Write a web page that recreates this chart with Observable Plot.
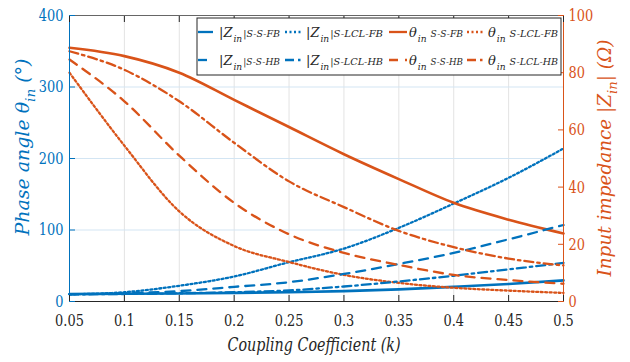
<!DOCTYPE html>
<html><head><meta charset="utf-8">
<script src="https://cdn.jsdelivr.net/npm/d3@7"></script>
<script src="https://cdn.jsdelivr.net/npm/@observablehq/plot@0.6"></script>
<style>
body{margin:0;background:#fff}
#chart{width:630px;height:362px}
</style>
</head><body><div id="chart"></div>
<script>
// coupling coefficient k
const kValues = [0.05,0.1,0.15,0.2,0.25,0.3,0.35,0.4,0.45,0.5];
// left-axis series (blue)
const zSSFB   = [10.5,10.8,11.2,12,13,14.5,17,20.5,24.5,29.5];
const zLCLFB  = [10,13,22,35,55,74,103,137,173,214];
const zSSHB   = [10,11.5,14.5,20.5,27,38.5,52.5,68,87,107];
const zLCLHB  = [10,10.5,11.5,13,15.5,21,28,36,45,54];
// right-axis series (orange)
const tSSFB   = [88.7,85.8,80,70.5,61,51.5,42.8,34.5,28.6,23.8];
const tLCLFB  = [80,54.5,31.5,19.4,13.8,9.3,6.5,4.8,3.8,3.0];
const tSSHB   = [84.6,70,51,34.5,23.5,17,12.8,9.3,7.5,6.2];
const tLCLHB  = [87.5,81,70,55.5,42,33,24.7,19,15,12.6];
// ticks
const xTicks = [0.05,0.1,0.15,0.2,0.25,0.3,0.35,0.4,0.45,0.5];
const leftTicks = [0,100,200,300,400];
const rightTicks = [0,20,40,60,80,100];
const xDomain = [0.05,0.5];
const leftDomain = [0,400];
const rightDomain = [0,100];

const BLUE = "#0072BD", ORANGE = "#D95319", DARK = "#262626";
const FONT = "DejaVu Serif";
const ratio = leftDomain[1] / rightDomain[1];

const series = [
  {pre:"|Z", sub:"in", post:"|S-S-FB",    vals:zSSFB,  color:BLUE,   dash:"none",      axis:"left"},
  {pre:"|Z", sub:"in", post:"|S-LCL-FB",  vals:zLCLFB, color:BLUE,   dash:"2 2.5",     axis:"left"},
  {pre:"θ",  sub:"in", post:" S-S-FB",    vals:tSSFB,  color:ORANGE, dash:"none",      axis:"right"},
  {pre:"θ",  sub:"in", post:" S-LCL-FB",  vals:tLCLFB, color:ORANGE, dash:"2 2.5",     axis:"right"},
  {pre:"|Z", sub:"in", post:"|S-S-HB",    vals:zSSHB,  color:BLUE,   dash:"9 7",       axis:"left"},
  {pre:"|Z", sub:"in", post:"|S-LCL-HB",  vals:zLCLHB, color:BLUE,   dash:"9 4 2.5 4", axis:"left"},
  {pre:"θ",  sub:"in", post:" S-S-HB",    vals:tSSHB,  color:ORANGE, dash:"9 7",       axis:"right"},
  {pre:"θ",  sub:"in", post:" S-LCL-HB",  vals:tLCLHB, color:ORANGE, dash:"9 4 2.5 4", axis:"right"}
];

const lineMarks = series.map(s => {
  const rows = kValues.map((k, i) => ({k, v: s.vals[i]}));
  return Plot.line(rows, {
    x: "k",
    y: d => s.axis === "right" ? d.v * ratio : d.v,
    stroke: s.color, strokeWidth: s.dash === "none" ? 2.6 : 2.3,
    strokeDasharray: s.dash,
    curve: "monotone-x"
  });
});

const svg = Plot.plot({
  width: 630, height: 362,
  marginLeft: 69, marginRight: 67, marginTop: 15, marginBottom: 61,
  style: {fontFamily: FONT, background: "#fff"},
  x: {domain: xDomain},
  y: {domain: leftDomain},
  marks: [
    Plot.gridX(xTicks, {stroke: "#e3e3e3", strokeOpacity: 1}),
    Plot.gridY(leftTicks.slice(1, -1), {stroke: "#d3e5f3", strokeOpacity: 1}),
    ...lineMarks,
    Plot.ruleY([leftDomain[0]], {stroke: DARK}),
    Plot.ruleY([leftDomain[1]], {stroke: "#666"}),
    Plot.ruleX([xDomain[0]], {stroke: BLUE}),
    Plot.ruleX([xDomain[1]], {stroke: ORANGE}),
    Plot.axisX(xTicks, {anchor: "bottom", tickSize: 6, dy: -6, tickPadding: 12, tickFormat: d => String(d),
      fontSize: 17, stroke: DARK, fill: DARK, label: null}),
    Plot.axisX(xTicks, {anchor: "top", tickSize: 6, dy: 6, tickFormat: () => "", stroke: DARK, label: null}),
    Plot.axisY(leftTicks, {anchor: "left", tickSize: 6, dx: 6, tickPadding: 6, tickFormat: d => String(d),
      fontSize: 17, stroke: BLUE, fill: BLUE, label: null}),
    Plot.axisY(rightTicks.map(t => t * ratio), {anchor: "right", tickSize: 6, dx: -6, tickPadding: 5,
      tickFormat: d => String(d / ratio), fontSize: 17, stroke: ORANGE, fill: ORANGE, label: null})
  ]
});
document.getElementById("chart").appendChild(svg);
svg.setAttribute("font-family", FONT);

const root = d3.select(svg);

function squeeze(el, target) {
  try {
    const L = el.getComputedTextLength();
    if (L > 0 && target > 0) {
      el.setAttribute("textLength", target);
      el.setAttribute("lengthAdjust", "spacingAndGlyphs");
    }
  } catch (e) {}
}

// horizontally condense tick labels (Times-like proportions)
root.selectAll('g[aria-label$="tick label"] text').each(function() {
  try { squeeze(this, this.getComputedTextLength() * 0.76); } catch (e) {}
});

function richText(g, parts, opts) {
  const t = g.append("text")
    .attr("font-family", FONT).attr("font-style", "italic")
    .attr("font-size", opts.size).attr("fill", opts.color)
    .attr("text-anchor", opts.anchor || "start");
  if (opts.transform) t.attr("transform", opts.transform);
  parts.forEach(p => {
    const ts = t.append("tspan").text(p.text);
    if (p.sub) ts.attr("dy", opts.size * 0.35).attr("font-size", opts.size * 0.72);
    if (p.after) ts.attr("dy", -opts.size * 0.35);
  });
  if (opts.width) squeeze(t.node(), opts.width);
  return t;
}

// axis titles
richText(root, [{text: "Phase angle θ"}, {text: "in", sub: true}, {text: " (°)", after: true}],
  {size: 18, color: BLUE, anchor: "middle", width: 177, transform: "translate(29,147) rotate(-90)"});
richText(root, [{text: "Input impedance |Z"}, {text: "in", sub: true}, {text: "| (Ω)", after: true}],
  {size: 18, color: ORANGE, anchor: "middle", width: 237, transform: "translate(611,158) rotate(-90)"});
richText(root, [{text: "Coupling Coefficient (k)"}],
  {size: 18, color: DARK, anchor: "middle", width: 173, transform: "translate(314,351)"});

// legend: each label built from separate text pieces laid side by side
const lg = root.append("g");
lg.append("rect").attr("x", 197).attr("y", 18).attr("width", 364).attr("height", 57)
  .attr("fill", "#fff").attr("stroke", DARK).attr("stroke-width", 1);
const colLine = [[198,213],[285,303],[389,407],[467,485]];
const colText = [219,306,409,488];
const colWidth = [61,77,54,70];
const rowY = [32,60];
const LS = 13;
series.forEach((s, i) => {
  const r = Math.floor(i / 4), c = i % 4;
  lg.append("line").attr("x1", colLine[c][0]).attr("x2", colLine[c][1])
    .attr("y1", rowY[r]).attr("y2", rowY[r])
    .attr("stroke", s.color).attr("stroke-width", 2.3)
    .attr("stroke-dasharray", s.dash);
  const base = rowY[r] + 5;
  const pieces = [
    {text: s.pre, size: LS, y: base},
    {text: s.sub, size: LS * 0.7, y: base + LS * 0.35},
    {text: s.post.trimStart(), size: LS, y: base}
  ];
  const els = pieces.map(p => lg.append("text")
    .attr("font-family", FONT).attr("font-style", "italic")
    .attr("font-size", p.size).attr("fill", DARK)
    .attr("text-anchor", "start").attr("y", p.y).text(p.text).node());
  const widths = els.map(e => { try { return e.getComputedTextLength(); } catch (err) { return 0; } });
  const space = s.post.startsWith(" ") ? 4 : 1;
  let x = colText[c];
  els[0].setAttribute("x", x);
  x += widths[0] + 1;
  els[1].setAttribute("x", x);
  x += widths[1] + space;
  els[2].setAttribute("x", x);
  // shrink the font (not squeeze) so the natural width fits inside the box
  const limit = c === 3 ? 558 : colText[c] + colWidth[c];
  const remain = limit - x;
  if (widths[2] > remain && remain > 0) {
    els[2].setAttribute("font-size", (LS * remain / widths[2]).toFixed(2));
  }
});
</script>
</body></html>
